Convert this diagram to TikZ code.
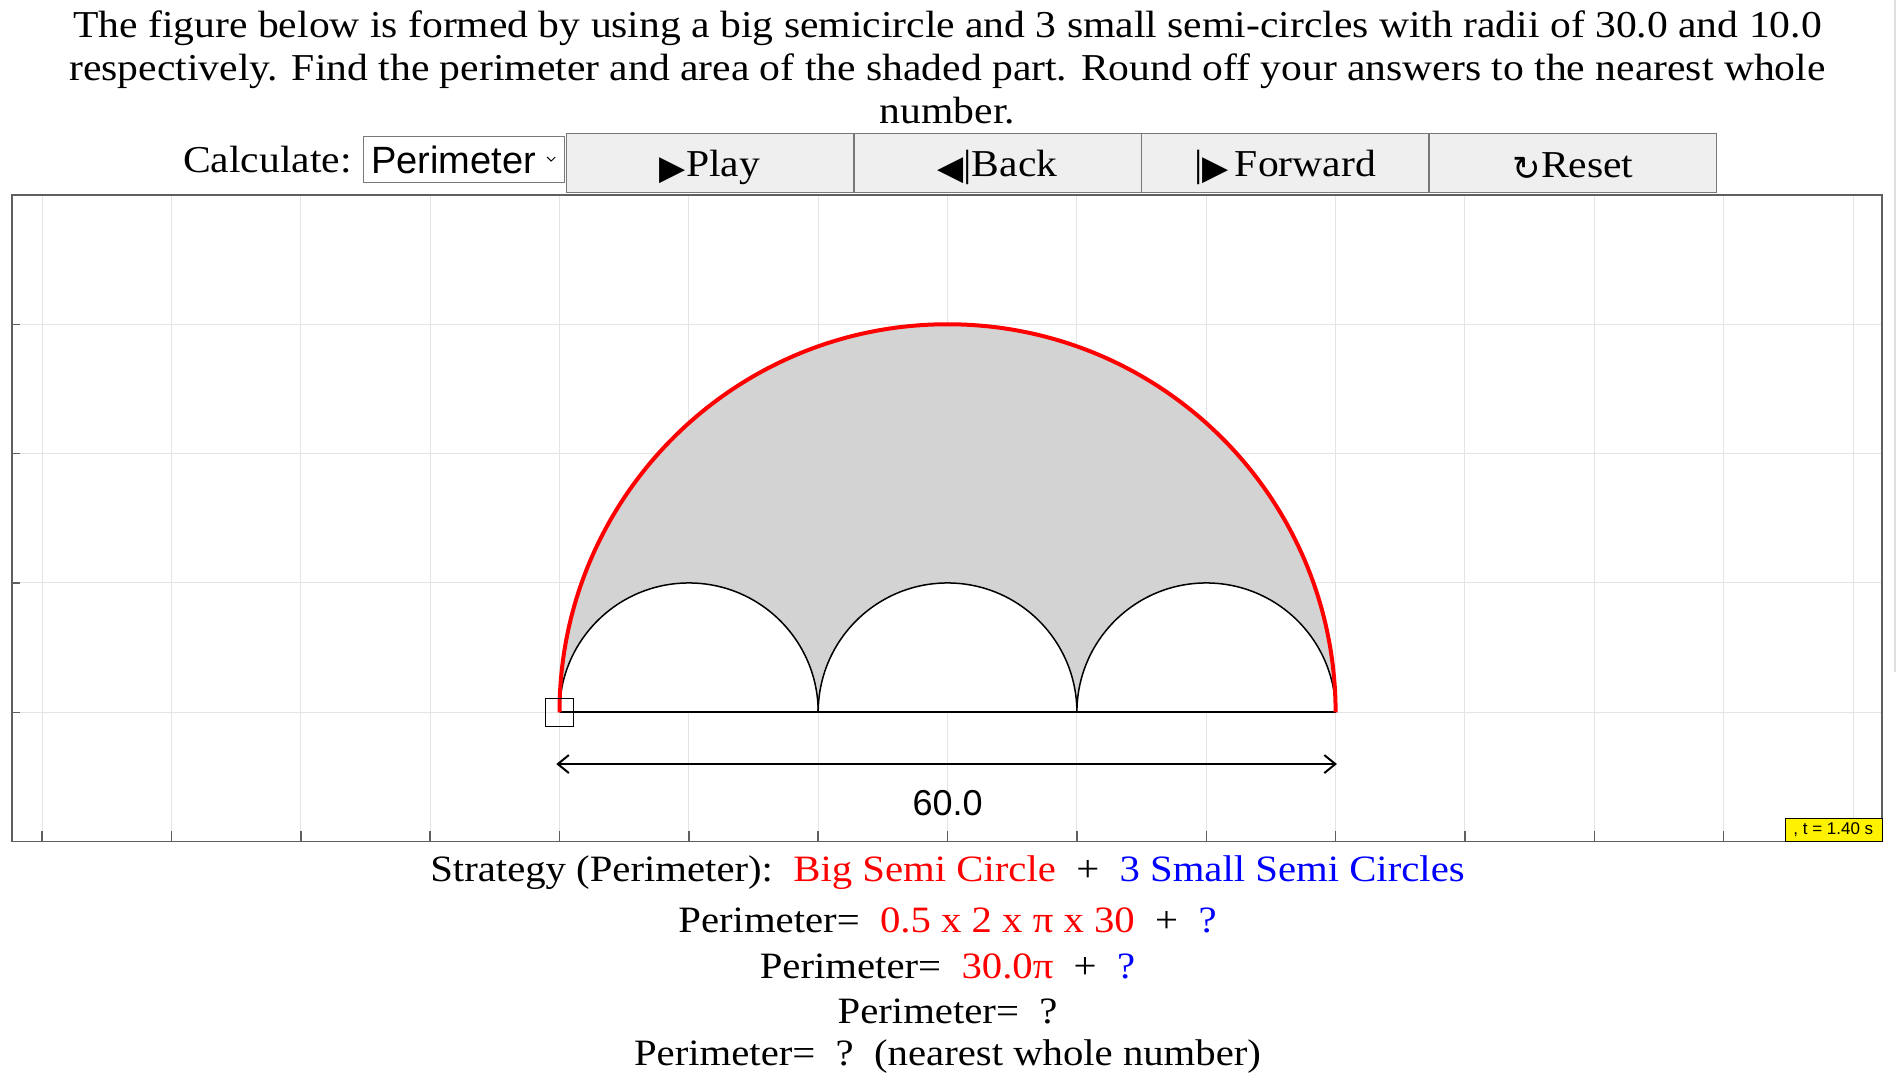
\documentclass[tikz,border=0pt]{standalone}
\usepackage{fontspec}
\setmainfont{Liberation Serif}[FakeStretch=1.095]
\newfontfamily\uisans{Liberation Sans}
\newfontfamily\uisym{DejaVu Sans}
\usetikzlibrary{arrows.meta}

\definecolor{gridgray}{RGB}{228,228,228}
\definecolor{framegray}{RGB}{95,95,95}
\definecolor{btnfill}{RGB}{239,239,239}
\definecolor{btnline}{RGB}{120,120,120}
\definecolor{shadegray}{RGB}{211,211,211}
\definecolor{qred}{RGB}{255,0,0}
\definecolor{qblue}{RGB}{0,0,255}

\tikzset{
  bigtxt/.style={font=\fontsize{38}{43}\selectfont, inner sep=0pt},
  steptxt/.style={font=\fontsize{37.2}{43}\selectfont, inner sep=0pt},
  button/.style={draw=btnline, fill=btnfill, minimum width=287pt, minimum height=59pt, inner sep=0pt},
  btntxt/.style={bigtxt, yshift=-4pt},
  gridline/.style={gridgray, line width=1pt},
  tick/.style={framegray, line width=1.5pt},
  smallarc/.style={black, line width=1.5pt},
  baseedge/.style={black, line width=2pt},
  bigarc/.style={qred, line width=4pt},
  dimarrow/.style={black, line width=2pt, {Straight Barb[length=11pt,width=18pt]}-{Straight Barb[length=11pt,width=18pt]}},
  corner/.style={draw=black, line width=1.5pt, minimum size=28pt, inner sep=0pt},
  tlabel/.style={draw=black, fill=yellow, font=\uisans\fontsize{17}{17}\selectfont, minimum width=97pt, minimum height=23pt, inner sep=0pt}
}
\newcommand{\btnsym}[1]{\raisebox{-3pt}{\uisym\fontsize{34}{34}\selectfont #1}}

\begin{document}
\begin{tikzpicture}[x=1pt, y=-1pt]
  \fill[white] (0,0) rectangle (1899,1080);
  \useasboundingbox (0,0) rectangle (1899,1080);
  \draw[gray!25, line width=1.5pt] (1895,0) -- (1895,672);

  % question
  \node[bigtxt, align=center] (question) at (947.5,67) {The figure below is formed by using a big semicircle and 3 small semi-circles with radii of 30.0 and 10.0\\respectively. Find the perimeter and area of the shaded part. Round off your answers to the nearest whole\\number.};

  % controls
  \node[bigtxt, anchor=east] (calc) at (352,160) {Calculate:};
  \node[draw=btnline, fill=white, minimum width=201pt, minimum height=46pt, inner sep=0pt] (calcsel) at (463.5,159) {};
  \node[anchor=west, inner sep=0pt, font=\uisans\fontsize{38}{38}\selectfont] (calctxt) at (371,160) {Perimeter};
  \draw[black, line width=1pt] ([xshift=-17pt,yshift=2pt]calcsel.east) -- ([xshift=-13pt,yshift=-2pt]calcsel.east) -- ([xshift=-9pt,yshift=2pt]calcsel.east);

  \node[button] (play) at (710,163) {};
  \node[button] (back) at (997.5,163) {};
  \node[button] (fwd) at (1285,163) {};
  \node[button] (reset) at (1573,163) {};
  \node[btntxt] (playtxt) at (play) {\btnsym{▶}Play};
  \node[btntxt] (backtxt) at (back) {\btnsym{◀}|Back};
  \node[btntxt] (fwdtxt) at (fwd) {|\btnsym{▶}\,Forward};
  \node[btntxt] (resettxt) at (reset) {\btnsym{↻}Reset};

  % plot
  \begin{scope}[shift={(559.5,712.3)}, x=129.35pt, y=129.35pt]
    \foreach \i in {-4,...,10} {
      \draw[gridline] (\i,-1) -- (\i,4);
      \draw[tick] (\i,-1) -- (\i,-0.92);
    }
    \foreach \j in {-1,...,4} {
      \draw[gridline] (-4.233,\j) -- (10.224,\j);
      \draw[tick] (-4.233,\j) -- (-4.17,\j);
    }
    \draw[framegray, line width=1.5pt] (-4.233,-1) rectangle (10.224,4);

    \fill[shadegray] (0,0) arc[start angle=180, end angle=0, radius=3] -- cycle;
    \foreach \c in {1,3,5} {
      \fill[white] (\c+1,0) arc[start angle=0, end angle=180, radius=1] -- cycle;
      \draw[smallarc] (\c+1,0) arc[start angle=0, end angle=180, radius=1];
    }
    \draw[baseedge] (0,0) -- (6,0);
    \draw[bigarc] (0,0) arc[start angle=180, end angle=0, radius=3];
    \node[corner] (pt) at (0,0) {};

    \coordinate (dimL) at (-0.025,-0.4);
    \coordinate (dimR) at (6.01,-0.4);
    \draw[dimarrow] (dimL) -- (dimR);
    \node[inner sep=0pt, font=\uisans\fontsize{36}{36}\selectfont] (dimlab) at (3,-0.70) {60.0};

    \node[tlabel, anchor=south east] (tbox) at (10.224,-1) {, t = 1.40 s};
  \end{scope}

  % strategy
  \node[steptxt] (strat) at (947.5,873) {Strategy (Perimeter):~~\textcolor{qred}{Big Semi Circle}~~+~~\textcolor{qblue}{3 Small Semi Circles}};
  \node[steptxt] (per1) at (947.5,920) {Perimeter=~~\textcolor{qred}{0.5 x 2 x π x 30}~~+~~\textcolor{qblue}{?}};
  \node[steptxt] (per2) at (947.5,966) {Perimeter=~~\textcolor{qred}{30.0π}~~+~~\textcolor{qblue}{?}};
  \node[steptxt] (per3) at (947.5,1011) {Perimeter=~~?};
  \node[steptxt] (per4) at (947.5,1057) {Perimeter=~~?~~(nearest whole number)};
\end{tikzpicture}
\end{document}
